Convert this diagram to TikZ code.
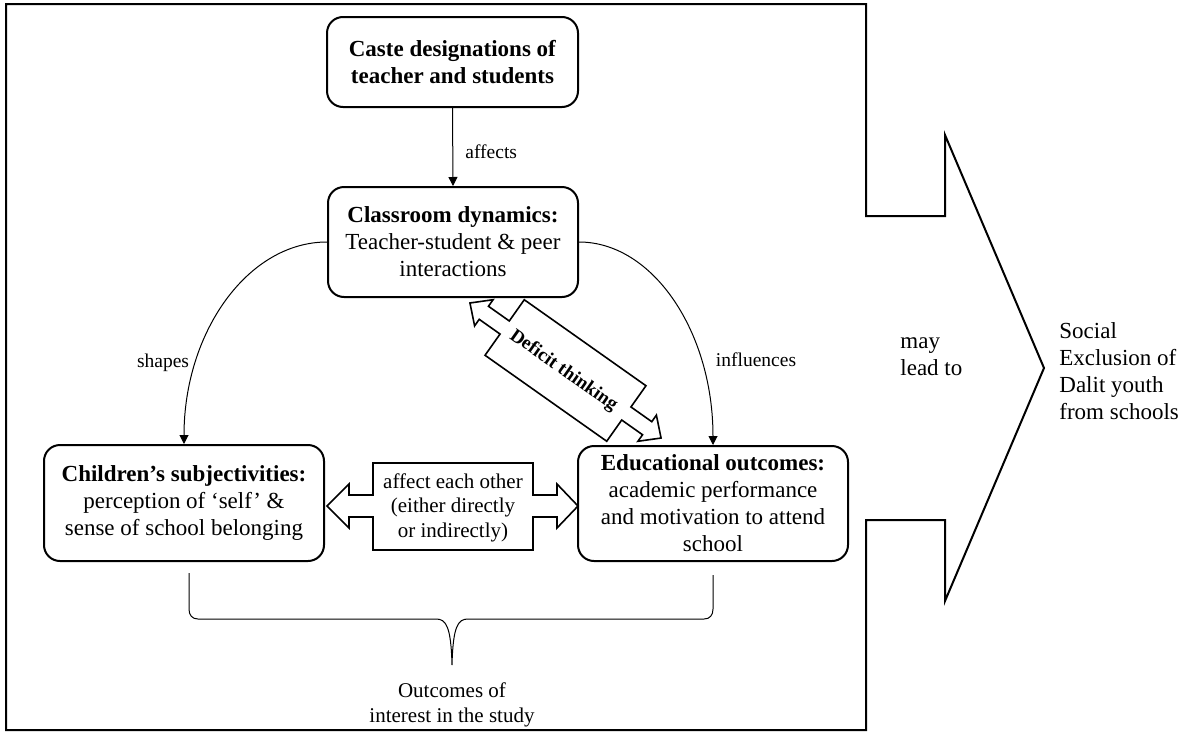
\documentclass[tikz,border=0pt]{standalone}
\usepackage{fontspec}
\setmainfont{Liberation Serif}
\usetikzlibrary{arrows.meta}

% type sizes (one drawing unit is half a point)
\newcommand\bxfont{\fontsize{11.5pt}{13.5pt}\selectfont}
\newcommand\lblfont{\fontsize{9.75pt}{11.7pt}\selectfont}
\newcommand\midfont{\fontsize{10.5pt}{12.2pt}\selectfont}
\newcommand\dtfont{\fontsize{9.5pt}{11pt}\selectfont\bfseries}

\begin{document}
\begin{tikzpicture}[x=0.5pt,y=-0.5pt,
  stagebox/.style={draw, line width=1pt, rounded corners=8pt, align=center,
                   inner sep=0pt, font=\bxfont},
  conn/.style={line width=0.5pt, -{Triangle[length=4.5pt,width=4.5pt]}},
  lbl/.style={font=\lblfont, inner sep=0pt},
  blockarrow/.style={line width=0.8pt, line join=miter},
  plaintext/.style={inner sep=0pt, font=\bxfont}]

\useasboundingbox (0,0) rectangle (1189,734);

% outer frame that narrows into the large arrow on the right
\draw[line width=1pt, line join=miter]
  (6,4) -- (866,4) -- (866,216) -- (945,216) -- (945,135) -- (1044,368)
  -- (945,601) -- (945,520) -- (866,520) -- (866,730) -- (6,730) -- cycle;

% the four stages
\node[stagebox, minimum width=125.5pt, minimum height=45pt] (caste) at (452.5,62)
  {\textbf{Caste designations of}\\\textbf{teacher and students}};
\node[stagebox, minimum width=125pt, minimum height=55pt] (class) at (453,242)
  {\textbf{Classroom dynamics:}\\Teacher-student \& peer\\interactions};
\node[stagebox, minimum width=140pt, minimum height=58pt] (child) at (184,503)
  {\textbf{Children’s subjectivities:}\\perception of ‘self’ \&\\sense of school belonging};
\node[stagebox, minimum width=135pt, minimum height=57.5pt] (edu) at (713,503.5)
  {\textbf{Educational outcomes:}\\academic performance\\and motivation to attend\\school};

% directed links
\draw[conn] (caste.south) -- (class.north);
\node[lbl, anchor=west] (affectsLbl) at (465,152) {affects};

\draw[conn] (class.west) .. controls +(-79,0) and +(0,-112) .. (child.north);
\node[lbl] (shapesLbl) at (163,363) {shapes};

\draw[conn] (class.east) .. controls +(74,0) and +(0,-113) .. (edu.north);
\node[lbl] (influencesLbl) at (756,360) {influences};

% two-headed block arrow between the lower stages
\draw[blockarrow]
  (373,463) -- (533,463) -- (533,495) -- (557,495) -- (557,484) -- (578,506)
  -- (557,528) -- (557,517) -- (533,517) -- (533,550) -- (373,550) -- (373,517)
  -- (349,517) -- (349,528) -- (327,506) -- (349,484) -- (349,495) -- (373,495) -- cycle;
\node[inner sep=0pt, align=center, font=\midfont] (mutual) at (453,507.5)
  {affect each other\\(either directly\\or indirectly)};

% slanted two-headed block arrow: deficit thinking
\begin{scope}[shift={(565.5,370.5)}, rotate=-35.25]
  \draw[blockarrow]
    (-74.5,-34) -- (74.5,-34) -- (74.5,-8) -- (100,-8) -- (100,-16) -- (117,0)
    -- (100,16) -- (100,8) -- (74.5,8) -- (74.5,34) -- (-74.5,34) -- (-74.5,8)
    -- (-100,8) -- (-100,16) -- (-117,0) -- (-100,-16) -- (-100,-8) -- (-74.5,-8) -- cycle;
\end{scope}
\node[inner sep=0pt, font=\dtfont, rotate=-35.25] (deficit) at (563.5,371)
  {Deficit thinking};

% brace gathering the two outcomes
\draw[line width=0.5pt]
  (189,573) -- (189,609) .. controls (189,615) and (192,619) .. (198,619)
  -- (436,619) .. controls (446,619) and (451,626) .. (452,665)
  .. controls (453,626) and (458,619) .. (468,619)
  -- (704,619) .. controls (710,619) and (713,615) .. (713,609) -- (713,575);
\node[inner sep=0pt, align=center, font=\midfont] (studyNote) at (452,705)
  {Outcomes of\\interest in the study};

% right-hand part
\node[plaintext, align=left, anchor=west] (mayLead) at (900,356.5) {may\\lead to};
\node[plaintext, align=left, anchor=west] (exclusion) at (1059,371)
  {Social\\Exclusion of\\Dalit youth\\from schools};

\end{tikzpicture}
\end{document}
